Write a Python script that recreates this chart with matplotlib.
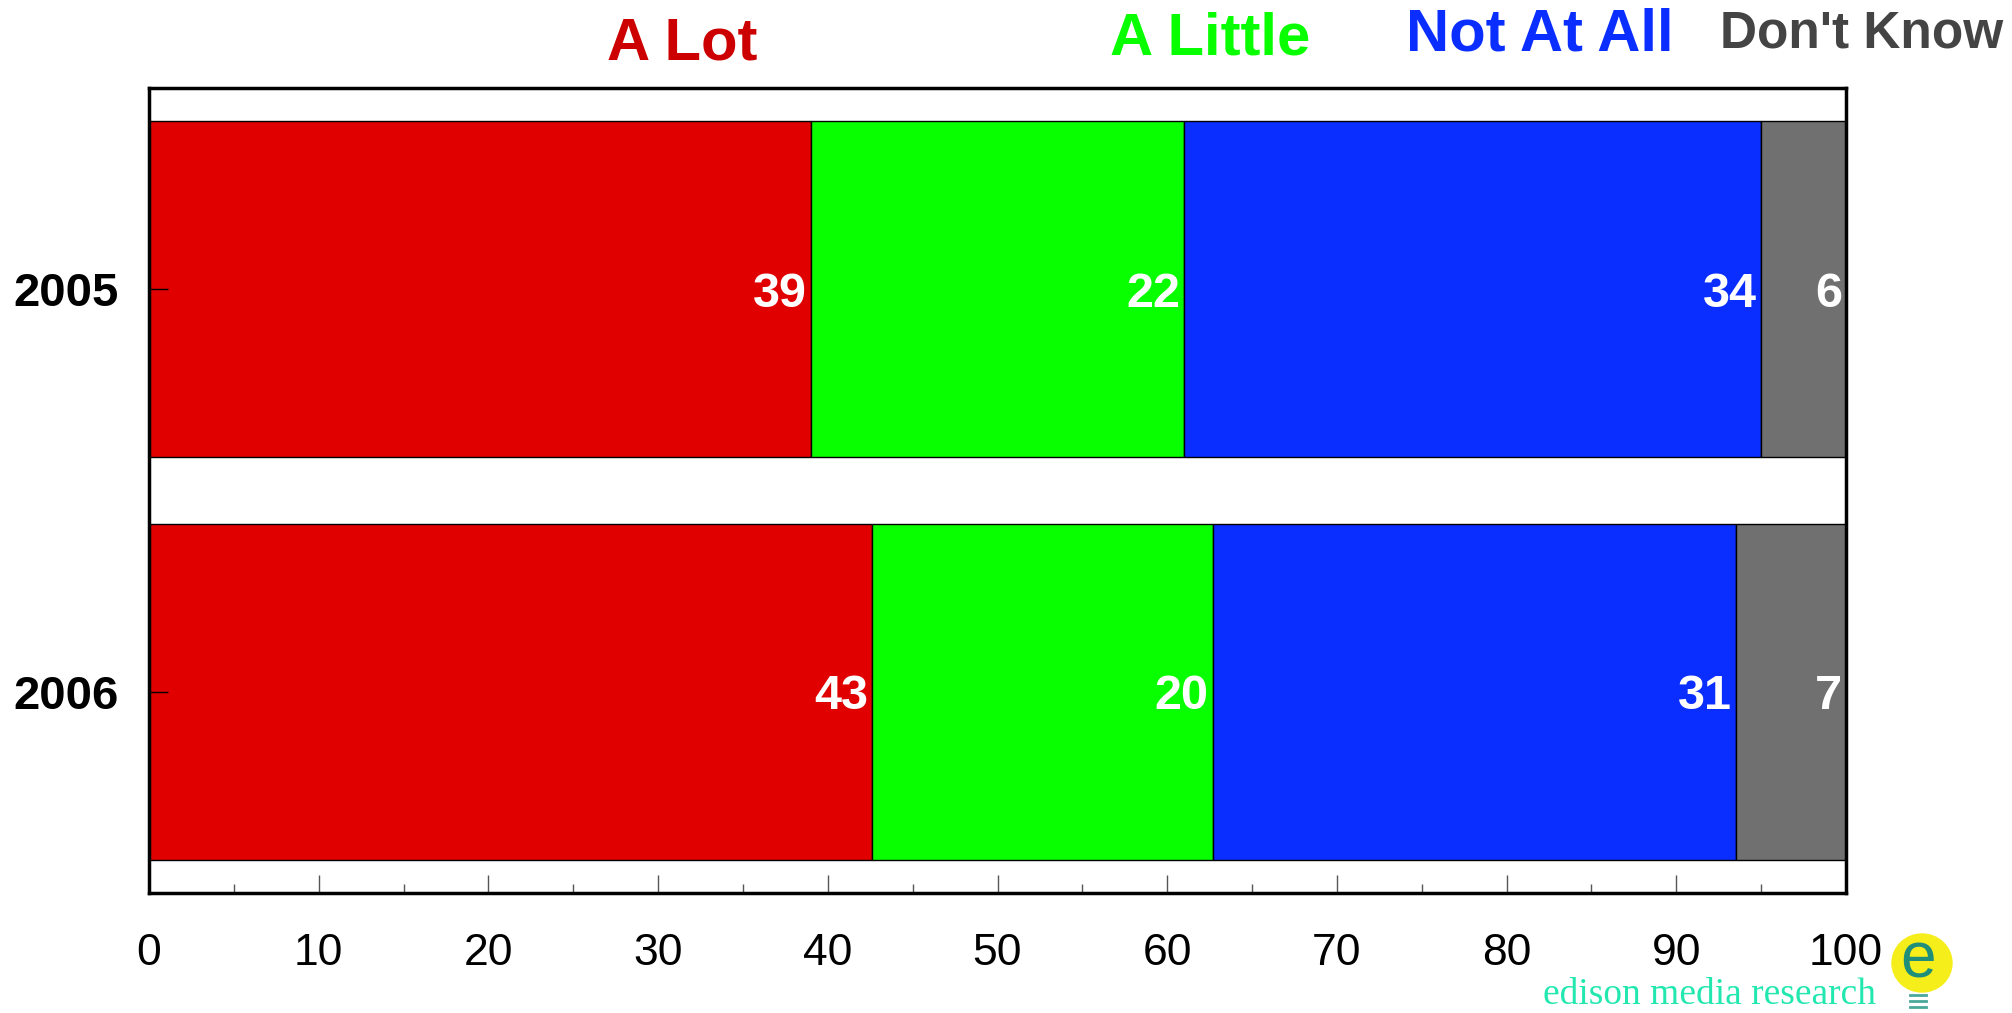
import matplotlib.pyplot as plt
from matplotlib.patches import Ellipse
import numpy as np

years = ['2005', '2006']
answers = ['A Lot', 'A Little', 'Not At All', "Don't Know"]
values_2005 = [39, 22, 34, 6]
values_2006 = [42.6, 20.1, 30.8, 6.5]
labels_2005 = ['39', '22', '34', '6']
labels_2006 = ['43', '20', '31', '7']
bar_colors = ['#e00000', '#08ff00', '#0a2eff', '#707070']
text_colors = ['#cc0000', '#08ff00', '#0a2eff', '#444444']

plt.rcParams['font.family'] = ['Liberation Sans', 'DejaVu Sans']

fig = plt.figure(figsize=(20.12, 10.13), dpi=100)
ax = fig.add_axes([149 / 2012, 120 / 1013, 1697 / 2012, 805 / 1013])

rows = [values_2005, values_2006]
row_labels = [labels_2005, labels_2006]
for i, (vals, labs) in enumerate(zip(rows, row_labels)):
    left = 0
    for j, v in enumerate(vals):
        ax.barh(i, v, left=left, height=0.834, color=bar_colors[j],
                edgecolor='black', linewidth=1)
        end = min(left + v, 100)
        ax.annotate(labs[j], (end, i), xytext=(-3, -3.5), textcoords='offset points',
                    ha='right', va='center', color='white', fontsize=35,
                    fontweight='bold')
        left += v

ax.set_xlim(0, 100)
ax.set_ylim(1.5, -0.5)
ax.set_yticks([0, 1])
ax.set_yticklabels(years, fontsize=34, fontweight='bold')
ax.set_xticks(np.arange(0, 101, 10))
ax.set_xticks(np.arange(5, 100, 10), minor=True)
ax.tick_params(axis='x', which='major', direction='in', length=13, width=1,
               labelsize=32, pad=29, color='#555555')
ax.tick_params(axis='x', which='minor', direction='in', length=6.5, width=1,
               color='#555555')
ax.tick_params(axis='y', direction='in', length=14, width=1, pad=22)
for s in ax.spines.values():
    s.set_linewidth(2.5)

# legend-like headers across the top
header_x = [682, 1210, 1540, 1862]
header_y = [44, 39, 35, 34]
header_size = [43, 43, 43, 37]
for name, c, x, y, fs in zip(answers, text_colors, header_x, header_y, header_size):
    fig.text(x / 2012, 1 - y / 1013, name, color=c, fontsize=fs,
             fontweight='bold', ha='center', va='center')

# edison logo
fig.text(1876 / 2012, 1 - 995 / 1013, 'edison media research',
         family='Liberation Serif', color='#22e8b0', fontsize=27,
         ha='right', va='center')
fig.patches.append(Ellipse((1922 / 2012, 1 - 963 / 1013), 60 / 2012, 58 / 1013,
                           transform=fig.transFigure, color='#f5ee1a', zorder=1))
fig.text(1918 / 2012, 1 - 960 / 1013, 'e', color='#1f8f7a', fontsize=46,
         ha='center', va='center', zorder=2)
for k in range(3):
    fig.lines.append(plt.Line2D([1910 / 2012, 1926 / 2012],
                                [1 - (995 + 6 * k) / 1013] * 2,
                                transform=fig.transFigure, color='#4aa89a',
                                linewidth=2))

fig.savefig('out.png', dpi=100)
